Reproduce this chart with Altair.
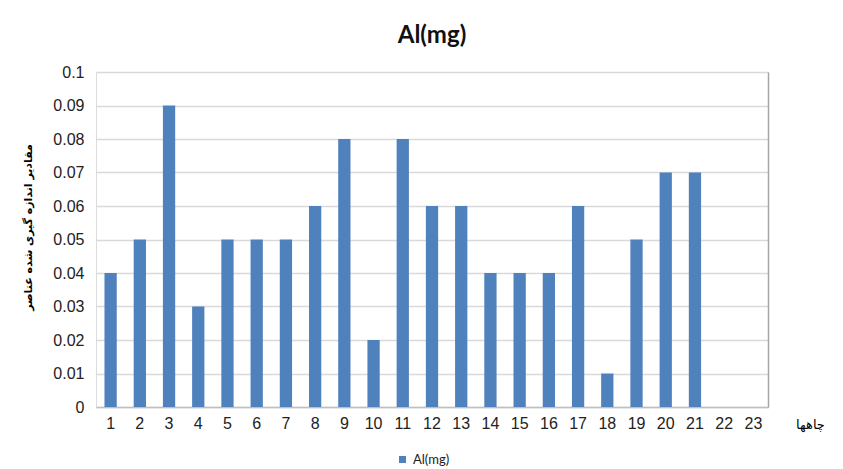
import altair as alt
import pandas as pd

wells = [str(i) for i in range(1, 24)]
values = [0.04, 0.05, 0.09, 0.03, 0.05, 0.05, 0.05, 0.06, 0.08, 0.02, 0.08, 0.06,
          0.06, 0.04, 0.04, 0.04, 0.06, 0.01, 0.05, 0.07, 0.07, 0.0, 0.0]
series = ["Al(mg)"] * len(wells)
y_ticks = [0, 0.01, 0.02, 0.03, 0.04, 0.05, 0.06, 0.07, 0.08, 0.09, 0.1]

df = pd.DataFrame({"well": wells, "value": values, "series": series})

label_font = "Liberation Sans"
persian_font = "DejaVu Sans"

x_enc = alt.X(
    "well:N",
    sort=wells,
    scale=alt.Scale(paddingInner=0.58, paddingOuter=0.29),
    axis=alt.Axis(
        title="چاهها",
        titleFont=persian_font,
        titleFontSize=13,
        titleFontWeight="normal",
        titleColor="#000000",
        titleX=714,
        titleY=17,
        titleAlign="center",
        titleBaseline="middle",
        labelAngle=0,
        labelFont=label_font,
        labelFontSize=16,
        labelColor="#222222",
        labelPadding=8,
        ticks=False,
        domainColor="#bfbfbf",
        domainWidth=1.5,
    ),
)

y_scale = alt.Scale(domain=[0, 0.1], nice=False)

bars = alt.Chart(df).mark_bar(color="#4f81bd").encode(
    x=x_enc,
    y=alt.Y(
        "value:Q",
        scale=y_scale,
        axis=alt.Axis(
            title="مقادیر اندازه گیری شده عناصر",
            titleFont=persian_font,
            titleFontSize=11,
            titleFontWeight="bold",
            titleAngle=270,
            titleX=-68,
            titleY=155,
            titleAlign="center",
            titleBaseline="middle",
            values=y_ticks,
            format="~g",
            labelFont=label_font,
            labelFontSize=16,
            labelColor="#222222",
            labelPadding=12,
            ticks=False,
            domain=False,
            grid=True,
            gridColor="#d9d9d9",
            gridWidth=1.5,
        ),
    ),
    fill=alt.Fill(
        "series:N",
        scale=alt.Scale(domain=["Al(mg)"], range=["#4f81bd"]),
        legend=alt.Legend(
            title=None,
            orient="none",
            legendX=300,
            legendY=381,
            symbolType="square",
            symbolSize=50,
            symbolStrokeWidth=0,
            labelFont="Lato",
            labelFontSize=13,
            labelColor="#222222",
        ),
    ),
)

right_line = alt.Chart(df).mark_bar(opacity=0).encode(
    x=x_enc,
    y=alt.Y(
        "value:Q",
        scale=y_scale,
        axis=alt.Axis(
            orient="right",
            title=None,
            labels=False,
            ticks=False,
            grid=False,
            domainColor="#a6a6a6",
            domainWidth=1.5,
        ),
    ),
)

chart = (
    alt.layer(bars, right_line)
    .resolve_axis(y="independent")
    .properties(
        width=672,
        height=335,
        autosize=alt.AutoSizeParams(type="none"),
        padding={"left": 88, "top": 64, "right": 60, "bottom": 62},
        title=alt.Title(
            "Al(mg)",
            font="Lato",
            fontSize=24,
            fontWeight="bold",
            color="#111111",
            anchor="middle",
            offset=16,
        ),
    )
    .configure_view(stroke=None)
    .configure(background="white")
)

chart.save("out.html", embed_options={"renderer": "svg", "actions": False})
